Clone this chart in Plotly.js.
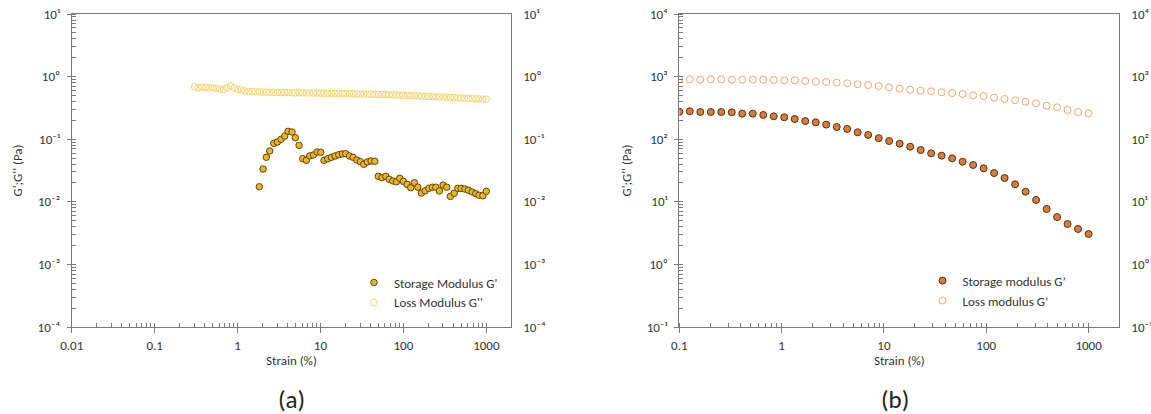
<!DOCTYPE html>
<html>
<head>
<meta charset="utf-8">
<script src="https://cdn.plot.ly/plotly-3.0.1.min.js"></script>
<style>html,body{margin:0;padding:0;background:#fff;}#chart{width:1151px;height:414px;}</style>
</head>
<body>
<div id="chart"></div>
<script>
// ---------- Panel (a) ----------
const strainA = [0.303,0.3345,0.370,0.4087,0.4517,0.4993,0.5516,0.6098,0.6741,0.7451,0.8234,0.910,1.006,1.112,1.228,1.358,1.501,1.659,
  1.832,2.032,2.223,2.443,2.735,3.020,3.350,3.707,4.064,4.539,4.977,5.521,6.109,6.761,7.430,8.222,9.099,10.09,11.04,12.25,13.55,15.00,16.63,18.37,20.18,22.34,24.72,27.42,30.27,33.27,36.81,40.74,45.19,49.89,55.34,61.38,67.30,74.47,82.41,90.57,100,110.9,122.7,135.8,149.3,164.8,182.8,202.3,223.9,246.0,271.6,301.3,333.4,368.9,409.3,452.9,496.6,550.8,608.1,674.5,746.4,818.5,907.8,1000];
const storageA = [null,null,null,null,null,null,null,null,null,null,null,null,null,null,null,null,null,null,
  0.0174,0.0334,0.0514,0.0649,0.0859,0.0902,0.0995,0.1125,0.1337,0.1303,0.1057,0.0798,0.0489,0.0460,0.0540,0.0560,0.0625,0.0618,0.0460,0.0489,0.0514,0.0540,0.0566,0.0581,0.0586,0.0540,0.0514,0.0466,0.0438,0.0397,0.0433,0.0449,0.0444,0.0255,0.0243,0.0255,0.0229,0.0215,0.0209,0.0237,0.0212,0.0190,0.0168,0.0202,0.0171,0.0138,0.0150,0.0164,0.0171,0.0171,0.0149,0.0185,0.0171,0.0122,0.0137,0.0164,0.0164,0.0160,0.0153,0.0144,0.0135,0.0127,0.0125,0.0147];
const lossA = [0.69,0.66,0.68,0.67,0.66,0.66,0.65,0.63,0.62,0.66,0.71,0.66,0.62,0.61,0.59,0.58,0.575,0.57,
  0.57,0.565,0.565,0.56,0.56,0.56,0.555,0.555,0.555,0.55,0.55,0.55,0.55,0.548,0.546,0.545,0.545,0.544,0.542,0.54,0.54,0.538,0.537,0.536,0.535,0.533,0.532,0.53,0.528,0.527,0.525,0.523,0.521,0.52,0.518,0.516,0.513,0.51,0.508,0.505,0.502,0.5,0.497,0.494,0.491,0.488,0.485,0.482,0.479,0.476,0.473,0.47,0.467,0.464,0.461,0.458,0.455,0.452,0.449,0.446,0.443,0.44,0.437,0.434];

// ---------- Panel (b) ----------
const strainB = [0.1,0.1266,0.1603,0.2031,0.2572,0.3257,0.4125,0.5224,0.6615,0.8377,1.061,1.343,1.701,2.154,2.728,3.455,4.375,5.541,7.017,8.886,11.25,14.25,18.05,22.86,28.94,36.65,46.42,58.78,74.44,94.28,119.4,151.2,191.5,242.4,307.0,388.8,492.4,623.5,789.7,1000];
const storageB = [275,279,272,272,272,269,256,256,244,232,224,210,195,186,171,157,146,129,117,104,93.5,84.8,76.0,67.2,59.5,54.6,49.4,43.7,38.7,34.2,28.8,24.0,19.0,14.5,10.7,7.67,5.71,4.42,3.68,3.06];
const lossB = [904,904,893,904,904,893,893,893,893,883,872,872,851,830,820,800,781,752,734,708,674,641,618,596,582,561,547,527,502,490,461,439,418,398,374,343,323,293,272,259];

// ---------- Tick labels ----------
const xTickValsA = [0.01,0.1,1,10,100,1000];
const xTickTextA = ["0.01","0.1","1","10","100","1000"];
const xTickValsB = [0.1,1,10,100,1000];
const xTickTextB = ["0.1","1","10","100","1000"];
const yTickValsA = [1e-4,1e-3,1e-2,1e-1,1,10];
const yTickTextA = ["10⁻⁴","10⁻³","10⁻²","10⁻¹","10⁰","10¹"];
const yTickValsB = [0.1,1,10,100,1000,10000];
const yTickTextB = ["10⁻¹","10⁰","10¹","10²","10³","10⁴"];

const FONT = "Carlito, Lato, 'Open Sans', sans-serif";
const TXT = "#333333";
const LINE = "#7a7a7a";
const FS = 13;

const traces = [
  {x: strainA, y: storageA, name: "Storage Modulus G'", type: "scatter", mode: "markers", xaxis: "x", yaxis: "y",
   marker: {symbol: "circle", size: 6.5, color: "#F0B323", line: {color: "#4a3a10", width: 0.9}}, legend: "legend"},
  {x: strainA, y: lossA, name: "Loss Modulus G''", type: "scatter", mode: "markers", xaxis: "x", yaxis: "y",
   marker: {symbol: "circle-open", size: 6.5, color: "#F5D46A", line: {color: "#F5D46A", width: 1}}, legend: "legend"},
  {x: strainB, y: storageB, name: "Storage modulus G’", type: "scatter", mode: "markers", xaxis: "x2", yaxis: "y3",
   marker: {symbol: "circle", size: 7, color: "#E07B35", line: {color: "#3a2614", width: 0.9}}, legend: "legend2"},
  {x: strainB, y: lossB, name: "Loss modulus G’", type: "scatter", mode: "markers", xaxis: "x2", yaxis: "y3",
   marker: {symbol: "circle-open", size: 7, color: "#F2A56C", line: {color: "#F2A56C", width: 1}}, legend: "legend2"},
  // invisible companions so the secondary (right-hand) axes are drawn
  {x: strainA, y: lossA, type: "scatter", mode: "markers", xaxis: "x", yaxis: "y2", showlegend: false,
   hoverinfo: "skip", marker: {opacity: 0, size: 1}},
  {x: strainB, y: lossB, type: "scatter", mode: "markers", xaxis: "x2", yaxis: "y4", showlegend: false,
   hoverinfo: "skip", marker: {opacity: 0, size: 1}}
];

function xAxis(domain, range, vals, text, anchor) {
  return {
    domain: domain, type: "log", range: range, anchor: anchor,
    tickmode: "array", tickvals: vals, ticktext: text,
    ticks: "outside", ticklen: 5, tickwidth: 1, tickcolor: LINE,
    minor: {dtick: "D1", ticks: "inside", ticklen: 4, tickwidth: 1, tickcolor: LINE, showgrid: false},
    showline: true, linecolor: LINE, linewidth: 1, mirror: true,
    showgrid: false, zeroline: false,
    tickfont: {family: FONT, size: FS, color: TXT},
    ticklabelstandoff: 1,
    title: {text: "Strain (%)", font: {family: FONT, size: FS, color: TXT}, standoff: 4}
  };
}
function yAxis(range, vals, text, anchor) {
  return {
    domain: [0, 1], type: "log", range: range, anchor: anchor,
    tickmode: "array", tickvals: vals, ticktext: text,
    ticks: "outside", ticklen: 4, tickwidth: 1, tickcolor: LINE,
    minor: {dtick: "D1", ticks: "inside", ticklen: 4, tickwidth: 1, tickcolor: LINE, showgrid: false},
    showline: true, linecolor: LINE, linewidth: 1, mirror: true,
    showgrid: false, zeroline: false,
    tickfont: {family: FONT, size: FS, color: TXT},
    ticklabelstandoff: 4,
    title: {text: "G';G'' (Pa)", font: {family: FONT, size: FS, color: TXT}, standoff: 12}
  };
}
function yRight(range, vals, text, over, anchor) {
  return {
    overlaying: over, side: "right", anchor: anchor, type: "log", range: range,
    tickmode: "array", tickvals: vals, ticktext: text, ticks: "",
    showline: false, showgrid: false, zeroline: false,
    tickfont: {family: FONT, size: FS, color: TXT},
    ticklabelstandoff: 11
  };
}

const layout = {
  width: 1151, height: 414,
  margin: {l: 0, r: 0, t: 14, b: 87, pad: 0},
  paper_bgcolor: "#ffffff", plot_bgcolor: "rgba(0,0,0,0)",
  font: {family: FONT, size: FS, color: TXT},
  showlegend: true,
  xaxis: xAxis([0.0623, 0.4442], [-2, Math.log10(2000)], xTickValsA, xTickTextA, "y"),
  yaxis: yAxis([-4, 1], yTickValsA, yTickTextA, "x"),
  yaxis2: yRight([-4, 1], yTickValsA, yTickTextA, "y", "x"),
  xaxis2: xAxis([0.5902, 0.9725], [-1, Math.log10(2000)], xTickValsB, xTickTextB, "y3"),
  yaxis3: yAxis([-1, 4], yTickValsB, yTickTextB, "x2"),
  yaxis4: yRight([-1, 4], yTickValsB, yTickTextB, "y3", "x2"),
  legend: {x: 0.3075, y: 0.19, xanchor: "left", yanchor: "top", bgcolor: "rgba(0,0,0,0)",
           font: {family: FONT, size: FS, color: TXT}, tracegroupgap: 0, itemwidth: 30},
  legend2: {x: 0.8015, y: 0.196, xanchor: "left", yanchor: "top", bgcolor: "rgba(0,0,0,0)",
           font: {family: FONT, size: FS, color: TXT}, tracegroupgap: 0, itemwidth: 30},
  annotations: [
    {text: "(a)", xref: "paper", yref: "paper", x: 0.2533, y: -0.233, xanchor: "center", yanchor: "middle",
     showarrow: false, font: {family: FONT, size: 25, color: "#222"}},
    {text: "(b)", xref: "paper", yref: "paper", x: 0.7775, y: -0.233, xanchor: "center", yanchor: "middle",
     showarrow: false, font: {family: FONT, size: 25, color: "#222"}}
  ]
};

Plotly.newPlot("chart", traces, layout, {displayModeBar: false, staticPlot: true});
</script>
</body>
</html>
